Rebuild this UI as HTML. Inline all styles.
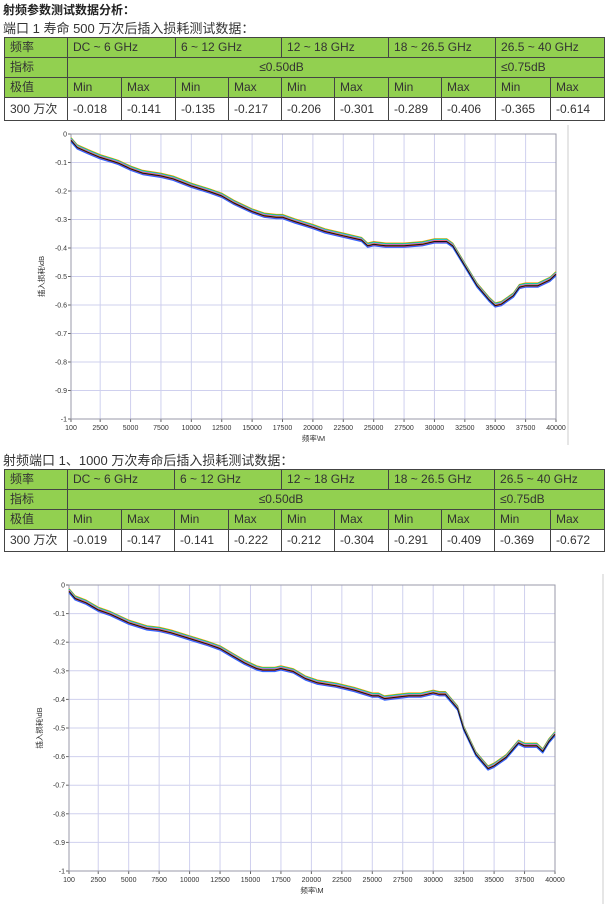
<!DOCTYPE html>
<html><head><meta charset="utf-8">
<style>
html,body{margin:0;padding:0;background:#fff;}
body{width:607px;height:904px;position:relative;overflow:hidden;font-family:"Liberation Sans","Noto Sans CJK SC",sans-serif;color:#222;}
.t{position:absolute;white-space:nowrap;}
table{position:absolute;border-collapse:collapse;table-layout:fixed;font-size:12px;color:#333;}
td{border:1px solid #444;padding:0 0 0 5px;height:19px;line-height:19px;overflow:hidden;white-space:nowrap;}
td.g{background:#92d050;}
td.c{text-align:center;padding:0;}
svg{position:absolute;left:0;}
</style></head><body>
<div class="t" style="left:3px;top:1px;font-size:12px;font-weight:bold;">射频参数测试数据分析：</div>
<div class="t" style="left:3px;top:18px;font-size:13px;color:#333;">端口 1 寿命 500 万次后插入损耗测试数据：</div>
<table style="left:4px;top:37px;width:600px;">
<colgroup><col style="width:63px"><col style="width:54px"><col style="width:54px"><col style="width:53px"><col style="width:53px"><col style="width:53px"><col style="width:54px"><col style="width:53px"><col style="width:54px"><col style="width:55px"><col style="width:54px"></colgroup>
<tr style="height:20px"><td class="g">频率</td><td class="g" colspan="2">DC ~ 6 GHz</td><td class="g" colspan="2">6 ~ 12 GHz</td><td class="g" colspan="2">12 ~ 18 GHz</td><td class="g" colspan="2">18 ~ 26.5 GHz</td><td class="g" colspan="2">26.5 ~ 40 GHz</td></tr>
<tr style="height:20px"><td class="g">指标</td><td class="g c" colspan="8">≤0.50dB</td><td class="g" colspan="2">≤0.75dB</td></tr>
<tr style="height:20px"><td class="g">极值</td><td class="g">Min</td><td class="g">Max</td><td class="g">Min</td><td class="g">Max</td><td class="g">Min</td><td class="g">Max</td><td class="g">Min</td><td class="g">Max</td><td class="g">Min</td><td class="g">Max</td></tr>
<tr style="height:23px"><td>300 万次</td><td>-0.018</td><td>-0.141</td><td>-0.135</td><td>-0.217</td><td>-0.206</td><td>-0.301</td><td>-0.289</td><td>-0.406</td><td>-0.365</td><td>-0.614</td></tr>
</table>
<div class="t" style="left:3px;top:450px;font-size:13px;color:#333;">射频端口 1、1000 万次寿命后插入损耗测试数据：</div>
<table style="left:4px;top:469px;width:600px;">
<colgroup><col style="width:63px"><col style="width:54px"><col style="width:53px"><col style="width:54px"><col style="width:53px"><col style="width:53px"><col style="width:54px"><col style="width:53px"><col style="width:53px"><col style="width:56px"><col style="width:54px"></colgroup>
<tr style="height:20px"><td class="g">频率</td><td class="g" colspan="2">DC ~ 6 GHz</td><td class="g" colspan="2">6 ~ 12 GHz</td><td class="g" colspan="2">12 ~ 18 GHz</td><td class="g" colspan="2">18 ~ 26.5 GHz</td><td class="g" colspan="2">26.5 ~ 40 GHz</td></tr>
<tr style="height:20px"><td class="g">指标</td><td class="g c" colspan="8">≤0.50dB</td><td class="g" colspan="2">≤0.75dB</td></tr>
<tr style="height:20px"><td class="g">极值</td><td class="g">Min</td><td class="g">Max</td><td class="g">Min</td><td class="g">Max</td><td class="g">Min</td><td class="g">Max</td><td class="g">Min</td><td class="g">Max</td><td class="g">Min</td><td class="g">Max</td></tr>
<tr style="height:22px"><td>300 万次</td><td>-0.019</td><td>-0.147</td><td>-0.141</td><td>-0.222</td><td>-0.212</td><td>-0.304</td><td>-0.291</td><td>-0.409</td><td>-0.369</td><td>-0.672</td></tr>
</table>
<svg id="c1" width="607" height="320" style="top:125px"></svg>
<svg id="c2" width="607" height="330" style="top:574px"></svg>
<script>
const xTicks = [100,2500,5000,7500,10000,12500,15000,17500,20000,22500,25000,27500,30000,32500,35000,37500,40000];
const yTicks = [0,-0.1,-0.2,-0.3,-0.4,-0.5,-0.6,-0.7,-0.8,-0.9,-1];
const yTickLabels = ["0","-0.1","-0.2","-0.3","-0.4","-0.5","-0.6","-0.7","-0.8","-0.9","-1"];
const freq1 = [100,600,1500,2500,3500,4000,5000,6000,7500,8500,10000,11500,12500,13500,15000,16000,17000,17500,18500,20000,21000,22500,24000,24500,25000,26000,27500,29000,30000,31000,31500,32500,33500,34500,35000,35500,36000,36500,37000,37500,38500,39500,40000];
const loss1 = [-0.02,-0.045,-0.062,-0.08,-0.093,-0.1,-0.12,-0.135,-0.145,-0.155,-0.18,-0.2,-0.215,-0.24,-0.27,-0.285,-0.29,-0.29,-0.305,-0.325,-0.34,-0.355,-0.37,-0.39,-0.385,-0.39,-0.39,-0.385,-0.375,-0.375,-0.39,-0.46,-0.53,-0.58,-0.6,-0.595,-0.58,-0.565,-0.535,-0.53,-0.53,-0.51,-0.49];
const freq2 = [100,600,1500,2500,3500,5000,6500,7500,8500,10000,11500,12500,13500,14500,15500,16000,17000,17500,18500,19500,20500,22000,23500,25000,25500,26000,27000,28000,29000,30000,30500,31000,32000,32500,33500,34500,35000,36000,37000,37500,38500,39000,39500,40000];
const loss2 = [-0.02,-0.045,-0.06,-0.085,-0.1,-0.13,-0.15,-0.155,-0.165,-0.185,-0.205,-0.22,-0.245,-0.27,-0.29,-0.295,-0.295,-0.29,-0.3,-0.325,-0.34,-0.35,-0.365,-0.385,-0.385,-0.395,-0.39,-0.385,-0.385,-0.375,-0.38,-0.38,-0.43,-0.5,-0.59,-0.64,-0.63,-0.6,-0.55,-0.56,-0.56,-0.58,-0.545,-0.52];
const NS='http://www.w3.org/2000/svg';
const bandColors=['#ff9900','#00cc66','#33ccff','#ff33cc','#cccc00','#9966ff','#ff3333','#3366ff'];
function mk(svg,tag,attrs){const e=document.createElementNS(NS,tag);for(const k in attrs)e.setAttribute(k,attrs[k]);svg.appendChild(e);return e;}
function draw(svg,L,R,T,B,freq,loss,frameRight){
  const sx=v=>L+(v-100)/(39900)*(R-L);
  const sy=v=>T+(-v)*(B-T);
  if(frameRight){const f=mk(svg,'line',{x1:frameRight,y1:0,x2:frameRight,y2:330,stroke:'#ccc'});
    
    }
  yTicks.forEach((v,i)=>{
    const g=mk(svg,'line',{x1:L,y1:sy(v),x2:R,y2:sy(v),stroke:'#cfd0ee','stroke-width':1});
    
    
    mk(svg,'line',{x1:L-3,y1:sy(v),x2:L,y2:sy(v),stroke:'#666'});
    const t=mk(svg,'text',{x:L-4,y:sy(v)+2.5,'font-size':7,'text-anchor':'end',fill:'#333','font-family':'Liberation Sans, sans-serif'});
    t.textContent=yTickLabels[i];
    
    
  });
  xTicks.forEach(v=>{
    const g=mk(svg,'line',{x1:sx(v),y1:T,x2:sx(v),y2:B,stroke:'#cfd0ee','stroke-width':1});
    
    
    mk(svg,'line',{x1:sx(v),y1:B,x2:sx(v),y2:B+3,stroke:'#666'});
    const t=mk(svg,'text',{x:sx(v),y:B+11,'font-size':7,'text-anchor':'middle',fill:'#333','font-family':'Liberation Sans, sans-serif'});
    t.textContent=String(v);
    
    
  });
  const fr=mk(svg,'rect',{x:L,y:T,width:R-L,height:B-T,fill:'none',stroke:'#9a9aa8','stroke-width':1});
  
  
  const pts=(dy)=>freq.map((f,i)=>sx(f).toFixed(1)+','+(sy(loss[i])+dy).toFixed(1)).join(' ');
  bandColors.forEach((c,k)=>{
    const p=mk(svg,'polyline',{points:pts((k-3.5)*0.6),fill:'none',stroke:c,'stroke-width':1.2,'stroke-linejoin':'round'});
    
    
  });
  const m=mk(svg,'polyline',{points:pts(0.6),fill:'none',stroke:'#111','stroke-width':1,'stroke-linejoin':'round'});
  
  
  const xt=mk(svg,'text',{x:(L+R)/2,y:B+22,'font-size':7.5,'text-anchor':'middle',fill:'#333','font-family':'Liberation Sans, Noto Sans CJK SC, sans-serif'});
  xt.textContent='频率\\M';
  
  
  const cy=(T+B)/2;
  const yt=mk(svg,'text',{x:0,y:0,'font-size':7.5,'text-anchor':'middle',fill:'#333',transform:`translate(${L-27},${cy}) rotate(-90)`,'font-family':'Liberation Sans, Noto Sans CJK SC, sans-serif'});
  yt.textContent='插入损耗\\dB';
  
  
}
draw(document.getElementById('c1'),71,556,9,294,freq1,loss1,568);
draw(document.getElementById('c2'),69,555,11,297,freq2,loss2,603);
</script>
</body></html>
